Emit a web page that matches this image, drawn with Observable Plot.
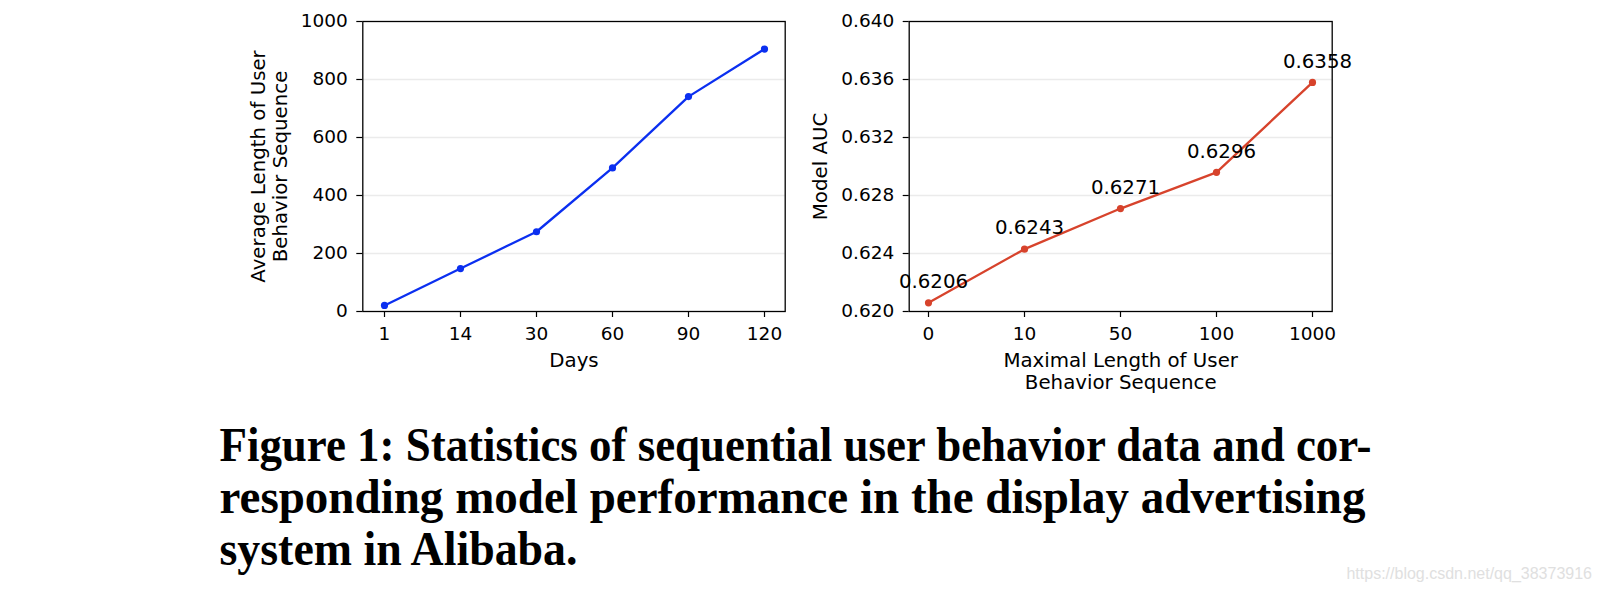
<!DOCTYPE html>
<html>
<head>
<meta charset="utf-8">
<script src="https://cdn.jsdelivr.net/npm/d3@7"></script>
<script src="https://cdn.jsdelivr.net/npm/@observablehq/plot@0.6"></script>
<style>
  html, body { margin: 0; padding: 0; background: #fff; }
  #page { position: relative; width: 1602px; height: 592px; overflow: hidden; background: #fff; }
  #left { position: absolute; left: 200px; top: 0; }
  #right { position: absolute; left: 800px; top: 0; }
  #caption { position: absolute; left: 0; top: 400px; }
</style>
</head>
<body>
<div id="page">
  <div id="left"></div>
  <div id="right"></div>
  <svg id="caption" width="1602" height="192">
    <g font-family="'Liberation Serif', serif" font-weight="bold" font-size="48" fill="#000">
      <text id="cap1" x="219.5" y="61" textLength="1152" lengthAdjust="spacingAndGlyphs"></text>
      <text id="cap2" x="219.5" y="113" textLength="1146" lengthAdjust="spacingAndGlyphs"></text>
      <text id="cap3" x="219.5" y="165" textLength="358" lengthAdjust="spacingAndGlyphs"></text>
    </g>
    <text id="wm" x="1592" y="179" text-anchor="end" font-family="'Liberation Sans', Arial, sans-serif" font-size="16" fill="#e0e0e0"></text>
  </svg>
</div>
<script>
// ---- data ----
const days = ["1", "14", "30", "60", "90", "120"];
const avgLength = [21, 148, 275, 495, 741, 905];
const lengthTicks = [0, 200, 400, 600, 800, 1000];

const maxLengths = ["0", "10", "50", "100", "1000"];
const auc = [0.6206, 0.6243, 0.6271, 0.6296, 0.6358];
const aucTicks = [0.620, 0.624, 0.628, 0.632, 0.636, 0.640];

const leftYLabel = "Average Length of User\nBehavior Sequence";
const leftXLabel = "Days";
const rightYLabel = "Model AUC";
const rightXLabel = "Maximal Length of User\nBehavior Sequence";
const captionLines = [
  "Figure 1: Statistics of sequential user behavior data and cor-",
  "responding model performance in the display advertising",
  "system in Alibaba."
];
const watermark = "https://blog.csdn.net/qq_38373916";

const blue = "#0b2ff0";
const red = "#d7432c";

const leftRows = days.map((d, i) => ({day: d, len: avgLength[i]}));
const rightRows = maxLengths.map((m, i) => ({m, auc: auc[i]}));

const baseStyle = {
  fontFamily: "'DejaVu Sans', sans-serif",
  fontSize: "18.5px",
  color: "#000",
  background: "transparent",
  overflow: "visible"
};
const labelSize = 19.8;

const left = Plot.plot({
  width: 600,
  height: 400,
  marginLeft: 162.3,
  marginRight: 15.3,
  marginTop: 21,
  marginBottom: 89,
  style: baseStyle,
  x: {type: "point", domain: days, padding: 0.25},
  y: {domain: [0, 1000]},
  marks: [
    Plot.gridY(lengthTicks.slice(1, -1), {stroke: "#ebebeb", strokeOpacity: 1, strokeWidth: 1.5}),
    Plot.axisX({tickSize: 6, tickPadding: 9, label: null, strokeWidth: 1.2}),
    Plot.axisY(lengthTicks, {tickSize: 6, tickPadding: 9, label: null, strokeWidth: 1.2, tickFormat: d => String(d)}),
    Plot.frame({stroke: "#000", strokeWidth: 1.3}),
    Plot.line(leftRows, {x: "day", y: "len", stroke: blue, strokeWidth: 2.3}),
    Plot.dot(leftRows, {x: "day", y: "len", r: 3.6, fill: blue}),
    Plot.text([leftYLabel], {text: d => d, frameAnchor: "left", rotate: -90, dx: -94, textAnchor: "middle", lineAnchor: "middle", lineHeight: 1.11, fontSize: labelSize}),
    Plot.text([leftXLabel], {text: d => d, frameAnchor: "bottom", dy: 49, textAnchor: "middle", lineAnchor: "middle", fontSize: labelSize})
  ]
});
document.getElementById("left").appendChild(left);

const right = Plot.plot({
  width: 560,
  height: 400,
  marginLeft: 108.7,
  marginRight: 28.3,
  marginTop: 21,
  marginBottom: 89,
  style: baseStyle,
  x: {type: "point", domain: maxLengths, padding: 0.2},
  y: {domain: [0.620, 0.640]},
  marks: [
    Plot.gridY(aucTicks.slice(1, -1), {stroke: "#ebebeb", strokeOpacity: 1, strokeWidth: 1.5}),
    Plot.axisX({tickSize: 6, tickPadding: 9, label: null, strokeWidth: 1.2}),
    Plot.axisY(aucTicks, {tickSize: 6, tickPadding: 9, label: null, strokeWidth: 1.2, tickFormat: ".3f"}),
    Plot.frame({stroke: "#000", strokeWidth: 1.3}),
    Plot.line(rightRows, {x: "m", y: "auc", stroke: red, strokeWidth: 2.3}),
    Plot.dot(rightRows, {x: "m", y: "auc", r: 3.6, fill: red}),
    Plot.text(rightRows, {x: "m", y: "auc", text: d => d.auc.toFixed(4), dx: 5, dy: -21, textAnchor: "middle", lineAnchor: "middle", fontSize: labelSize}),
    Plot.text([rightYLabel], {text: d => d, frameAnchor: "left", rotate: -90, dx: -88.7, textAnchor: "middle", lineAnchor: "middle", fontSize: labelSize}),
    Plot.text([rightXLabel], {text: d => d, frameAnchor: "bottom", dy: 59.8, textAnchor: "middle", lineAnchor: "middle", lineHeight: 1.1, fontSize: labelSize})
  ]
});
document.getElementById("right").appendChild(right);

captionLines.forEach((t, i) => { document.getElementById("cap" + (i + 1)).textContent = t; });
document.getElementById("wm").textContent = watermark;
</script>
</body>
</html>
